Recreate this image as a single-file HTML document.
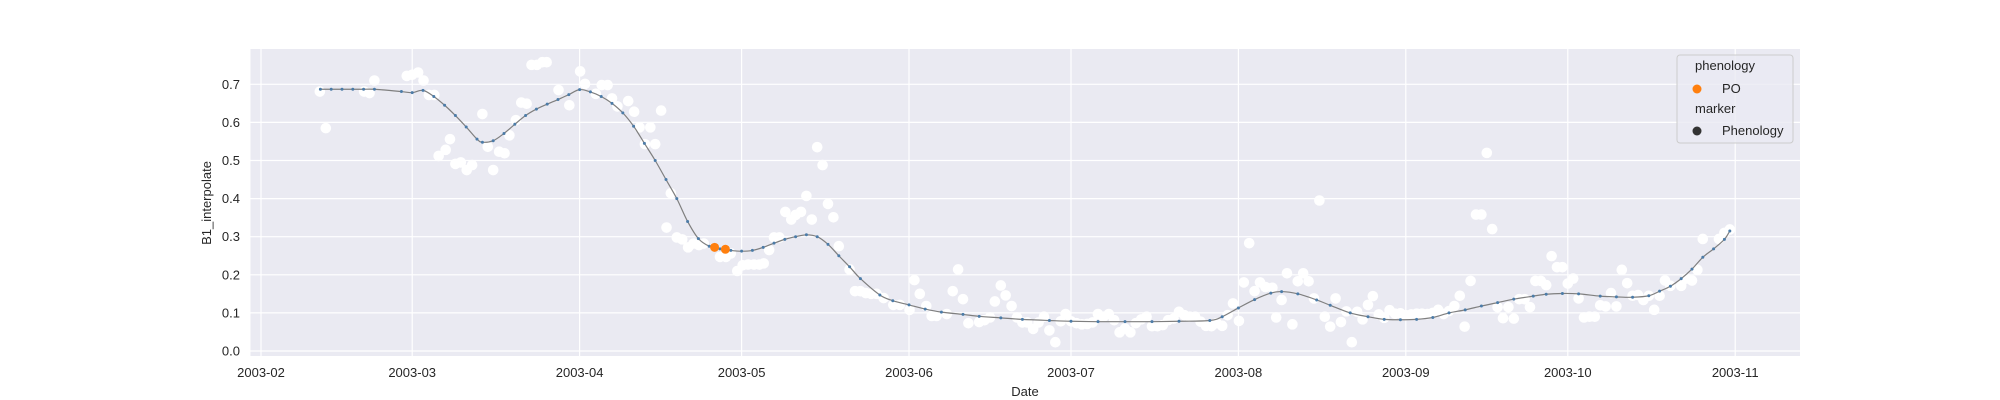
<!DOCTYPE html>
<html><head><meta charset="utf-8">
<style>
html,body{margin:0;padding:0;background:#fff;}
svg{display:block;font-family:"Liberation Sans",Arial,sans-serif;}
</style></head>
<body>
<svg id="chart" width="2000" height="400" viewBox="0 0 2000 400" xmlns="http://www.w3.org/2000/svg">
  <rect x="250.5" y="49" width="1549.5" height="307" fill="#eaeaf2"/>
  <g id="grid"></g>
  <g id="xticks"></g>
  <g id="yticks"></g>
  <g id="scatter"></g>
  <g id="curve"></g>
  <g id="po"></g>
  <text x="0" y="0" transform="translate(211,203) rotate(-90)" text-anchor="middle" font-size="13" fill="#262626">B1_interpolate</text>
  <text x="1025" y="396" text-anchor="middle" font-size="13" fill="#262626">Date</text>
  <g>
    <rect x="1677" y="55" width="116" height="88" rx="3" fill="#eaeaf2" fill-opacity="0.8" stroke="#cccccc"/>
    <text x="1695" y="70" font-size="13" fill="#262626">phenology</text>
    <circle cx="1697" cy="89" r="4.5" fill="#ff7f0e"/>
    <text x="1722" y="93" font-size="13" fill="#262626">PO</text>
    <text x="1695" y="113" font-size="13" fill="#262626">marker</text>
    <circle cx="1697" cy="131" r="4.5" fill="#333333"/>
    <text x="1722" y="135" font-size="13" fill="#262626">Phenology</text>
  </g>
</svg>
<script>
// Days are offsets from 2003-02-01
const monthLabels = ["2003-02","2003-03","2003-04","2003-05","2003-06","2003-07","2003-08","2003-09","2003-10","2003-11"];
const monthDays = [0,28,59,89,120,150,181,212,242,273];
const yTicks = [0.0,0.1,0.2,0.3,0.4,0.5,0.6,0.7];
const yTickLabels = ["0.0","0.1","0.2","0.3","0.4","0.5","0.6","0.7"];

const curveDays = [11,13,15,17,19,21,26,28,30,32,34,36,38,40,41,43,45,47,49,51,53,55,57,59,61,63,65,67,69,71,73,75,77,79,81,83,85,87,89,91,93,95,97,99,101,103,105,107,109,111,114.6,117,120,123,126,130,133,137,141,146,150,155,160,165,170,175.7,178,181,184,187,189,192,195.5,198,201.7,205,208,211,214,217,220,223,226,229,232,235.6,238,241,244,248,251,254,257,259,261,263,265,267,269,271,272];
const curveValues = [0.687,0.687,0.687,0.687,0.687,0.687,0.681,0.678,0.684,0.668,0.645,0.618,0.588,0.556,0.548,0.552,0.571,0.595,0.618,0.635,0.648,0.660,0.673,0.686,0.680,0.668,0.650,0.625,0.590,0.545,0.500,0.450,0.400,0.340,0.295,0.275,0.268,0.264,0.262,0.264,0.272,0.283,0.293,0.300,0.305,0.300,0.280,0.250,0.221,0.190,0.147,0.132,0.121,0.110,0.102,0.096,0.091,0.087,0.083,0.080,0.078,0.077,0.077,0.077,0.078,0.080,0.090,0.113,0.135,0.152,0.156,0.150,0.134,0.120,0.100,0.090,0.083,0.082,0.083,0.088,0.100,0.108,0.118,0.127,0.136,0.144,0.149,0.151,0.150,0.144,0.142,0.141,0.145,0.157,0.170,0.190,0.215,0.246,0.268,0.293,0.315];

const obsDays = [10.9,12,19.1,20.1,21,27,28,29.1,30.1,31.1,32.1,32.9,34.2,35,36,37,38.1,39.1,41,42,43,44.1,45.1,46,47.2,48.2,49.2,50.1,51.1,52.1,52.9,55.1,57.1,59.1,60,62,63.1,64.2,65,66,68,69.1,70.1,71.1,72.1,73,74.1,75.9,75.1,77,78,79.1,80.1,81.1,82,85,86.1,87,88.2,89.2,90.2,91.3,92.3,93.1,94.1,95,96,97.1,98.2,99,100,101,102,103,104,105,106,107,109,110,111,112,
 113,114,115.3,117.1,118.3,120.1,121,122,123.2,124.2,125.1,127,128.1,129.1,130,131,133,134,135,135.9,137,137.9,139,140,141,141.9,143,144,145,146,147.1,148.1,149,150,151,152,153,154,155,156,157,158,159,160,161,162,163,164,165,166,167,168,169,170,171,172,173,174,175,176,177,178,179,180,181.1,182,183,184,185,186,187.3,188,189,190,191,192,193,194,195,196,197,198,199,200,201,202,203,204,205,
 205.9,207,208,209,210,211,212,213,214,215,216,217,218,219,220,221,222,222.9,224,225,226,227,228,229,230,231,232,233,234,235,236,237,238,239,240,241,242,243,244,245,246,247,248,249,250,251,252,253,254,255,256,257,258,259,260,261,263,264,265,266,267,270,271,272];
const obsValues = [0.681,0.585,0.681,0.677,0.71,0.722,0.725,0.731,0.71,0.672,0.672,0.512,0.528,0.556,0.491,0.495,0.475,0.488,0.622,0.536,0.475,0.523,0.519,0.566,0.606,0.652,0.649,0.751,0.751,0.758,0.758,0.685,0.645,0.734,0.701,0.675,0.698,0.698,0.663,0.642,0.656,0.628,0.587,0.543,0.587,0.543,0.631,0.414,0.324,0.298,0.293,0.272,0.282,0.278,0.282,0.247,0.247,0.256,0.21,0.225,0.227,0.227,0.227,0.23,0.265,0.298,0.298,0.365,0.345,0.357,0.365,0.407,0.345,0.535,0.488,0.386,0.351,0.275,0.214,0.157,0.157,0.152,
 0.15,0.15,0.139,0.121,0.121,0.108,0.186,0.15,0.118,0.092,0.092,0.097,0.157,0.214,0.136,0.073,0.076,0.081,0.088,0.13,0.172,0.146,0.118,0.088,0.075,0.075,0.058,0.075,0.09,0.054,0.023,0.078,0.097,0.078,0.073,0.07,0.071,0.075,0.097,0.09,0.097,0.081,0.049,0.059,0.049,0.073,0.083,0.09,0.065,0.065,0.068,0.081,0.085,0.103,0.094,0.09,0.09,0.077,0.066,0.065,0.073,0.066,0.094,0.125,0.079,0.18,0.283,0.157,0.18,0.168,0.166,0.088,0.134,0.204,0.07,0.183,0.204,0.183,0.138,0.395,0.09,0.064,0.138,0.076,0.104,0.023,0.103,0.083,0.121,
 0.144,0.096,0.087,0.107,0.098,0.099,0.094,0.096,0.098,0.098,0.097,0.1,0.108,0.097,0.105,0.118,0.145,0.064,0.184,0.358,0.358,0.52,0.32,0.115,0.086,0.115,0.085,0.136,0.136,0.115,0.184,0.184,0.173,0.249,0.22,0.22,0.177,0.19,0.138,0.088,0.09,0.09,0.12,0.117,0.152,0.117,0.213,0.178,0.145,0.147,0.134,0.145,0.108,0.145,0.185,0.171,0.171,0.19,0.185,0.213,0.294,0.294,0.31,0.319];

const poDays = [84,86];
const poValues = [0.272,0.267];

const NS = "http://www.w3.org/2000/svg";
function xScale(d){ return 261 + d * 5.4; }
function yScale(v){ return 351 - v * 381; }
function mk(tag, attrs, parent){
  const e = document.createElementNS(NS, tag);
  for (const k in attrs) e.setAttribute(k, attrs[k]);
  parent.appendChild(e);
  return e;
}
const grid = document.getElementById('grid');
const xt = document.getElementById('xticks');
const yt = document.getElementById('yticks');
monthDays.forEach((d,i)=>{
  const x = xScale(d);
  const l = mk('line',{x1:x,x2:x,y1:49,y2:356,stroke:'#ffffff','stroke-width':1.2},grid);
  
  
  const t = mk('text',{x:x,y:377,'text-anchor':'middle','font-size':13,fill:'#262626'},xt);
  t.textContent = monthLabels[i];
  
  
});
yTicks.forEach((v,i)=>{
  const y = yScale(v);
  const l = mk('line',{x1:250.5,x2:1800,y1:y,y2:y,stroke:'#ffffff','stroke-width':1.2},grid);
  
  
  const t = mk('text',{x:240,y:y+4.5,'text-anchor':'end','font-size':13,fill:'#262626'},yt);
  t.textContent = yTickLabels[i];
  
  
});
const sc = document.getElementById('scatter');
obsDays.forEach((d,i)=>{
  const c = mk('circle',{cx:xScale(d),cy:yScale(obsValues[i]),r:5.3,fill:'#ffffff'},sc);
  
  
});
// smooth curve (Catmull-Rom)
const cg = document.getElementById('curve');
const pts = curveDays.map((d,i)=>[xScale(d), yScale(curveValues[i])]);
let dstr = 'M'+pts[0][0]+','+pts[0][1];
for (let i=0;i<pts.length-1;i++){
  const p0=pts[Math.max(0,i-1)], p1=pts[i], p2=pts[i+1], p3=pts[Math.min(pts.length-1,i+2)];
  const c1=[p1[0]+(p2[0]-p0[0])/6, p1[1]+(p2[1]-p0[1])/6];
  const c2=[p2[0]-(p3[0]-p1[0])/6, p2[1]-(p3[1]-p1[1])/6];
  dstr += ' C'+c1[0]+','+c1[1]+' '+c2[0]+','+c2[1]+' '+p2[0]+','+p2[1];
}
const path = mk('path',{d:dstr,fill:'none',stroke:'#7f7f7f','stroke-width':1.2},cg);


pts.forEach(p=>{
  const c = mk('circle',{cx:p[0],cy:p[1],r:1.5,fill:'#4c7ca8'},cg);
  
  
});
const pg = document.getElementById('po');
poDays.forEach((d,i)=>{
  const c = mk('circle',{cx:xScale(d),cy:yScale(poValues[i]),r:4.5,fill:'#ff7f0e'},pg);
  
  
});
</script>
</body></html>
